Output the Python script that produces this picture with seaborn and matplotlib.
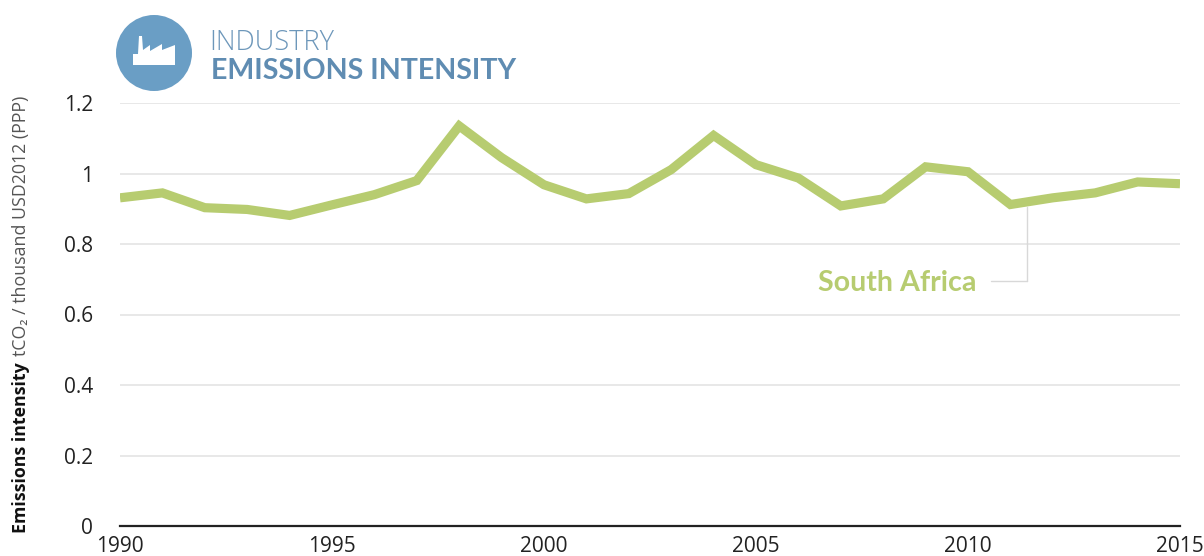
import matplotlib
matplotlib.use("Agg")
import matplotlib.pyplot as plt
from matplotlib.patches import Circle, Polygon
import pandas as pd
import seaborn as sns

years = list(range(1990, 2016))
intensity = [0.931, 0.945, 0.903, 0.898, 0.881, 0.911, 0.940, 0.980, 1.135, 1.045,
             0.968, 0.928, 0.943, 1.011, 1.108, 1.025, 0.987, 0.908, 0.928, 1.019,
             1.005, 0.912, 0.931, 0.945, 0.976, 0.971]
yticks = [0, 0.2, 0.4, 0.6, 0.8, 1, 1.2]
ytick_labels = ["0", "0.2", "0.4", "0.6", "0.8", "1", "1.2"]
xticks = [1990, 1995, 2000, 2005, 2010, 2015]

W, H = 1204, 556
sns.set_theme(style="white")
plt.rcParams["font.family"] = ["Open Sans", "DejaVu Sans"]

fig = plt.figure(figsize=(W / 100, H / 100), dpi=100, facecolor="white")
ax = fig.add_axes([120 / W, 1 - 526 / H, 1060 / W, 423 / H])
df = pd.DataFrame({"year": years, "intensity": intensity})

ax.set_xlim(1990, 2015)
ax.set_ylim(0, 1.2)
ax.set_yticks(yticks, ytick_labels)
ax.set_xticks(xticks, [str(x) for x in xticks])
ax.grid(axis="y", color="#e2e2e2", lw=1.1)
ax.set_axisbelow(True)
for s in ["top", "right", "left"]:
    ax.spines[s].set_visible(False)
ax.spines["bottom"].set_color("#222222")
ax.spines["bottom"].set_linewidth(1.6)
ax.tick_params(axis="y", length=0, pad=19.5, labelsize=15, labelcolor="#222222")
ax.tick_params(axis="x", length=0, pad=7, labelsize=15, labelcolor="#222222")

# Leader line from the series to its label
ax.plot([2011.4, 2011.4, 2011.4], [0.905, 0.78, 0.694], color="#d8d8d8", lw=1, zorder=2)
ax.plot([2011.4, 2010.55], [0.694, 0.694], color="#d8d8d8", lw=1, zorder=2)

sns.lineplot(data=df, x="year", y="intensity", ax=ax, color="#b7cc70", lw=6.6,
             solid_joinstyle="miter", solid_capstyle="butt", zorder=3, errorbar=None)
ax.set_xlabel("")
ax.set_ylabel("")

ax.text(2010.2, 0.689, "South Africa", color="#b7cc70", fontsize=20.6, fontweight="bold",
        ha="right", va="center", family=["Lato", "DejaVu Sans"])

# Rotated y label in two weights
fig.canvas.draw()
r = fig.canvas.get_renderer()
t1 = fig.text(21 / W, 1 - 533 / H, "Emissions intensity", rotation=90, ha="center", va="bottom",
              fontsize=12.8, fontweight="bold", color="#111111")
bb = t1.get_window_extent(r)
fig.text(21 / W, (bb.y1 + 6) / H, "tCO₂ / thousand USD2012 (PPP)", rotation=90, ha="center",
         va="bottom", fontsize=12.8, color="#555555")

# Header icon and titles, in an overlay axes using pixel units
ov = fig.add_axes([0, 0, 1, 1], facecolor="none")
ov.set_xlim(0, W)
ov.set_ylim(H, 0)
ov.axis("off")
ov.set_aspect("equal")
ov.add_patch(Circle((154, 53), 38, color="#6a9ec5", lw=0))
factory = [(133, 65), (133, 54), (138, 54), (139, 36), (142, 36), (143, 50), (150, 45),
           (150, 51), (162, 44), (162, 50), (175, 45), (175, 65)]
ov.add_patch(Polygon(factory, closed=True, color="white", lw=0))
ov.text(209, 43, "INDUSTRY", color="#6d97ba", fontsize=19.6, va="center", ha="left",
        family=["Open Sans", "DejaVu Sans"], fontweight="light")
ov.text(211, 71, "EMISSIONS INTENSITY", color="#5f8cb2", fontsize=20.6, va="center", ha="left",
        family=["Lato", "DejaVu Sans"], fontweight="bold")

fig.savefig("out.png", dpi=100, facecolor="white")
